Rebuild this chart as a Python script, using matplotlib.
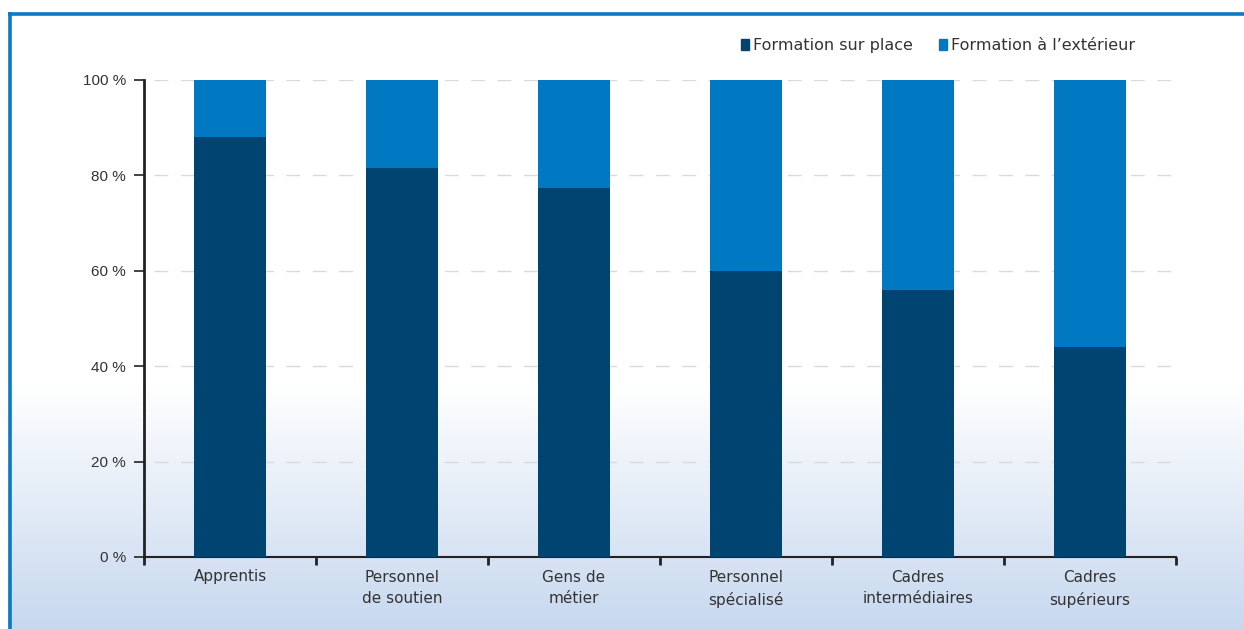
import numpy as np
import matplotlib
matplotlib.use('Agg')
import matplotlib.pyplot as plt
from matplotlib.patches import Patch
from matplotlib.colors import LinearSegmentedColormap

categories = ['Apprentis', 'Personnel\nde soutien', 'Gens de\nmétier',
              'Personnel\nspécialisé', 'Cadres\nintermédiaires',
              'Cadres\nsupérieurs']
sur_place = [88, 81.5, 77.4, 60, 56, 44]
exterieur = [12, 18.5, 22.6, 40, 44, 56]
yticks = [0, 20, 40, 60, 80, 100]
ytick_labels = ['0 %', '20 %', '40 %', '60 %', '80 %', '100 %']

dark = '#004572'
light = '#0079c2'
frame = '#0a7ac4'

fig = plt.figure(figsize=[12.44, 6.29], dpi=100)

# background: white on top, fading into pale blue towards the bottom
bg = fig.add_axes([0, 0, 1, 1], zorder=-10)
bg.set_axis_off()
rows = np.linspace(0, 1, 629)
t = np.clip((rows - 383 / 629) / (1 - 383 / 629), 0, 1)
grad = np.tile(t[:, None], (1, 10))
cmap = LinearSegmentedColormap.from_list('bgfade', ['#ffffff', '#c7d8ef'])
bg.imshow(grad, cmap=cmap, aspect='auto', extent=[8 / 1244, 1, 0, 1],
          origin='upper', vmin=0, vmax=1)
bg.set_xlim(0, 1)
bg.set_ylim(0, 1)
bg.plot([9.5 / 1244, 9.5 / 1244], [0, 1 - 12 / 629], color=frame, lw=2.6,
        solid_capstyle='butt')
bg.plot([8 / 1244, 1], [1 - 13.5 / 629, 1 - 13.5 / 629], color=frame,
        lw=2.6, solid_capstyle='butt')

ax = fig.add_axes([144 / 1244, 1 - 557 / 629, 1032 / 1244, 477 / 629])
ax.patch.set_alpha(0)

x = np.arange(len(categories))
ax.bar(x, sur_place, width=0.42, color=dark, zorder=3)
ax.bar(x, exterieur, width=0.42, bottom=sur_place, color=light, zorder=3)

ax.set_xlim(-0.5, len(categories) - 0.5)
ax.set_ylim(0, 100)
ax.set_yticks(yticks)
ax.set_yticklabels(ytick_labels, fontfamily='Liberation Sans', fontsize=11,
                   color='#333333')
for yv in yticks[1:]:
    ax.axhline(yv, xmin=0.01, color='#dadada', lw=1, dashes=(10, 9), zorder=1)

ax.set_xticks(x)
ax.set_xticklabels(categories, fontsize=11, color='#333333',
                   linespacing=1.55)
ax.set_xticks(np.arange(-0.5, len(categories)), minor=True)
ax.tick_params(axis='x', which='major', length=0, pad=9)
ax.tick_params(axis='x', which='minor', length=6, width=2, color='#222222')
ax.tick_params(axis='y', length=7, width=1.2, color='#222222', pad=6)

for side in ['top', 'right']:
    ax.spines[side].set_visible(False)
ax.spines['left'].set_linewidth(2)
ax.spines['left'].set_color('#222222')
ax.spines['bottom'].set_linewidth(1.5)
ax.spines['bottom'].set_color('#222222')

handles = [Patch(color=dark, label='Formation sur place'),
           Patch(color=light, label='Formation à l\u2019extérieur')]
fig.legend(handles=handles, loc='center', bbox_to_anchor=(0.754, 0.927),
           ncol=2, frameon=False, fontsize=11.5, handlelength=0.5,
           handleheight=0.7, handletextpad=0.25, columnspacing=1.6,
           labelcolor='#333333')

fig.savefig('out.png', dpi=100)
